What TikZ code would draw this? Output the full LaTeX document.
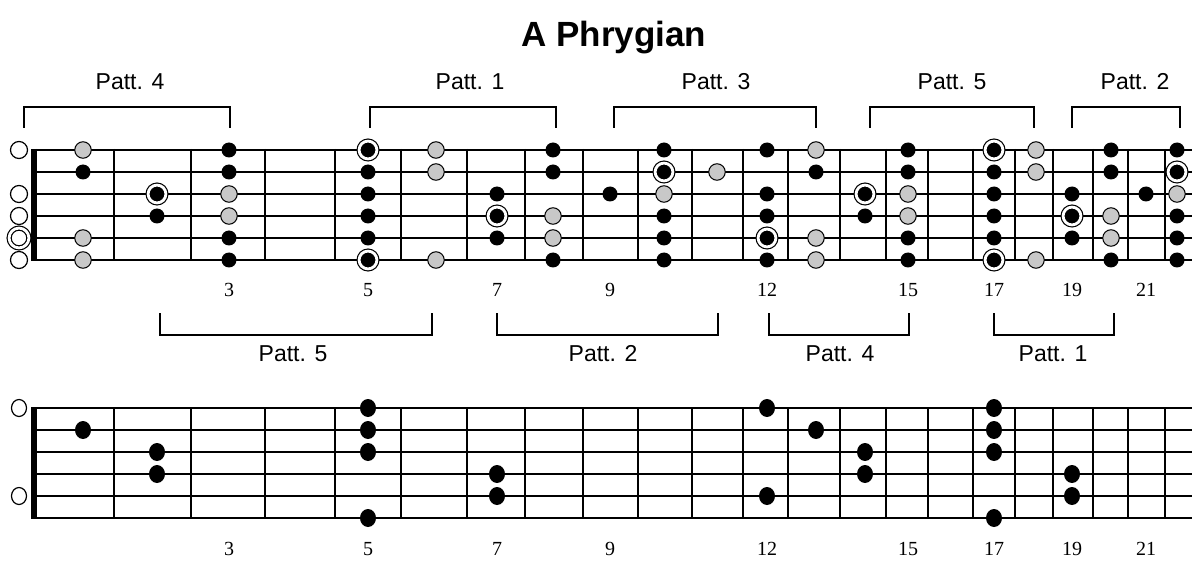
\documentclass[tikz,border=0pt]{standalone}
\usepackage{fontspec}
\setmainfont{Liberation Sans}
\newfontfamily\numfont{Liberation Serif}
\usetikzlibrary{shapes.geometric}

\definecolor{notegray}{RGB}{200,200,200}

\tikzstyle{guitar string} = [draw=black,line width=1.8pt]
\tikzstyle{fretwire} = [draw=black,line width=1.8pt]
\tikzstyle{nutbar} = [draw=black,line width=6pt]
\tikzstyle{note} = [circle,fill=black,inner sep=0pt,minimum size=15pt]
\tikzstyle{grey note} = [note,draw=black,fill=notegray,line width=1pt,minimum size=16.5pt]
\tikzstyle{root} = [note,minimum size=17.8pt,draw=black,double=white,double distance=2.8pt,line width=1.2pt]
\tikzstyle{openstring} = [circle,draw=black,fill=white,line width=1.2pt,inner sep=0pt,minimum size=17pt]
\tikzstyle{openroot} = [root,fill=white,minimum size=19.8pt]
\tikzstyle{arp note} = [ellipse,fill=black,inner sep=0pt,minimum width=16pt,minimum height=18pt]
\tikzstyle{arp open} = [ellipse,draw=black,fill=white,line width=1.2pt,inner sep=0pt,minimum width=15pt,minimum height=17pt]
\tikzstyle{bracket} = [draw=black,line width=1.3pt]
\tikzstyle{patt} = [font=\fontsize{23}{27}\selectfont,inner sep=0pt,anchor=base]
\tikzstyle{fretnum} = [font=\numfont\fontsize{20}{24}\selectfont,inner sep=0pt,anchor=base]

\begin{document}
\begin{tikzpicture}[x=1pt,y=-1pt]
    \useasboundingbox (0,0) rectangle (1200,588);

    % rows of the strings, top board and bottom board
    \foreach \r/\y in {1/150,2/172,3/194,4/216,5/238,6/260} {
        \coordinate (t\r) at (0,\y);
        \coordinate (b\r) at (0,\y+258);
    }
    % note columns, one per fret
    \foreach \f/\x in {0/19,1/83,2/157,3/229,4/300,5/368,6/436,7/497,8/553,9/610,10/664,11/717,
                       12/767,13/816,14/865,15/908,16/950,17/994,18/1036,19/1072,20/1111,21/1146,22/1177}
        \coordinate (c\f) at (\x,0);
    \coordinate (nut) at (33,0);
    \coordinate (end) at (1192,0);
    \coordinate (tnum) at (0,297);
    \coordinate (bnum) at (0,555);

    \node [font=\bfseries\fontsize{35}{40}\selectfont,inner sep=0pt,anchor=base] (title) at (614,47) {A Phrygian};

    % fretboards
    \foreach \x in {114,191,265,335,401,467,525,583,638,692,743,788,840,886,928,973,1015,1053,1093,1128,1165} {
        \draw [style=fretwire] (\x,149) -- (\x,261);
        \draw [style=fretwire] (\x,407) -- (\x,519);
    }
    \foreach \r in {1,...,6} {
        \draw [style=guitar string] (nut |- t\r) -- (end |- t\r);
        \draw [style=guitar string] (nut |- b\r) -- (end |- b\r);
    }
    \draw [style=nutbar] (33.5,149) -- (33.5,261);
    \draw [style=nutbar] (33.5,407) -- (33.5,519);

    % top board: the scale
    \foreach \r in {1,3,4,6}
        \node [style=openstring] (t-0-\r) at (c0 |- t\r) {};
    \node [style=openroot] (t-0-5) at (c0 |- t5) {};

    \foreach \f/\r in {1/2,2/4,3/1,3/2,3/5,3/6,5/2,5/3,5/4,5/5,7/3,7/5,8/1,8/2,8/6,9/3,
                       10/1,10/4,10/5,10/6,12/1,12/3,12/4,12/6,13/2,14/4,15/1,15/2,15/5,15/6,
                       17/2,17/3,17/4,17/5,19/3,19/5,20/1,20/2,20/6,21/3,22/1,22/4,22/5,22/6}
        \node [style=note] (t-\f-\r) at (c\f |- t\r) {};

    \foreach \f/\r in {1/1,1/5,1/6,3/3,3/4,6/1,6/2,6/6,8/4,8/5,10/3,11/2,
                       13/1,13/5,13/6,15/3,15/4,18/1,18/2,18/6,20/4,20/5,22/3}
        \node [style=grey note] (t-\f-\r) at (c\f |- t\r) {};

    \foreach \f/\r in {2/3,5/1,5/6,7/4,10/2,12/5,14/3,17/1,17/6,19/4,22/2}
        \node [style=root] (t-\f-\r) at (c\f |- t\r) {};

    % bottom board: the arpeggio
    \foreach \r in {1,5}
        \node [style=arp open] (b-0-\r) at (c0 |- b\r) {};
    \foreach \f/\r in {1/2,2/3,2/4,5/1,5/2,5/3,5/6,7/4,7/5,12/1,12/5,13/2,14/3,14/4,
                       17/1,17/2,17/3,17/6,19/4,19/5}
        \node [style=arp note] (b-\f-\r) at (c\f |- b\r) {};

    % fret numbers
    \foreach \f in {3,5,7,9,12,15,17,19,21} {
        \node [style=fretnum] (tn\f) at (c\f |- tnum) {\f};
        \node [style=fretnum] (bn\f) at (c\f |- bnum) {\f};
    }

    % patterns above the top board
    \draw [style=bracket] (24,128) -- (24,107) -- (230,107) -- (230,128);
    \draw [style=bracket] (370,128) -- (370,107) -- (556,107) -- (556,128);
    \draw [style=bracket] (614,128) -- (614,107) -- (816,107) -- (816,128);
    \draw [style=bracket] (870,128) -- (870,107) -- (1034,107) -- (1034,128);
    \draw [style=bracket] (1072,128) -- (1072,107) -- (1180,107) -- (1180,128);
    \node [style=patt] (pa4) at (130,90) {Patt. 4};
    \node [style=patt] (pa1) at (470,90) {Patt. 1};
    \node [style=patt] (pa3) at (716,90) {Patt. 3};
    \node [style=patt] (pa5) at (952,90) {Patt. 5};
    \node [style=patt] (pa2) at (1135,90) {Patt. 2};

    % patterns below the top board
    \draw [style=bracket] (160,313) -- (160,335) -- (432,335) -- (432,313);
    \draw [style=bracket] (497,313) -- (497,335) -- (718,335) -- (718,313);
    \draw [style=bracket] (769,313) -- (769,335) -- (909,335) -- (909,313);
    \draw [style=bracket] (994,313) -- (994,335) -- (1114,335) -- (1114,313);
    \node [style=patt] (pb5) at (293,361) {Patt. 5};
    \node [style=patt] (pb2) at (603,361) {Patt. 2};
    \node [style=patt] (pb4) at (840,361) {Patt. 4};
    \node [style=patt] (pb1) at (1053,361) {Patt. 1};
\end{tikzpicture}
\end{document}
